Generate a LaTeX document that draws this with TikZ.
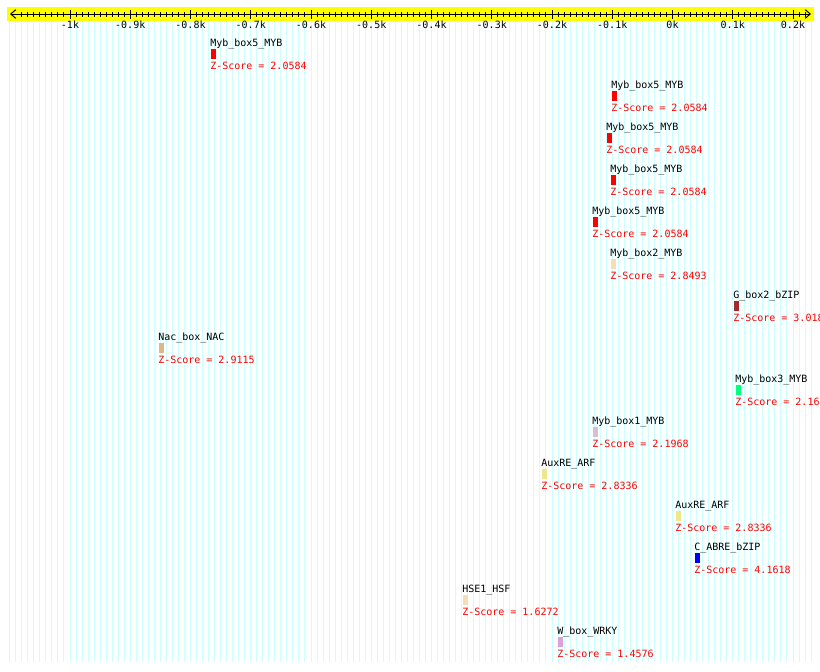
\documentclass[tikz,border=0pt]{standalone}
\usepackage{fontspec}
\setmonofont{DejaVu Sans Mono}
\usepackage{tikz}
\usetikzlibrary{arrows.meta,positioning}
\definecolor{gridcyan}{HTML}{CCFFFF}
\definecolor{bandyellow}{HTML}{FFFF00}
\definecolor{tfred}{HTML}{FF0000}
\definecolor{tfwheat}{HTML}{F5DEB3}
\definecolor{tfbrown}{HTML}{A52A2A}
\definecolor{tfburly}{HTML}{DEB887}
\definecolor{tfgreen}{HTML}{00FF7F}
\definecolor{tfthistle}{HTML}{D8BFD8}
\definecolor{tfkhaki}{HTML}{F0E68C}
\definecolor{tfblue}{HTML}{0000FF}
\definecolor{tfplum}{HTML}{DDA0DD}
\tikzset{
  txt/.style     = {font=\ttfamily\fontsize{7.5}{9}\selectfont, inner sep=0pt},
  tfname/.style  = {txt, text=black, anchor=base west},
  zscore/.style  = {txt, text=tfred, anchor=base west},
  ticklab/.style = {txt, text=black, anchor=base},
  tfbox/.style   = {inner sep=0pt, minimum width=3.75pt, minimum height=7.5pt,
                    anchor=north west},
  gridln/.style  = {gridcyan, line width=0.75pt},
  tickln/.style  = {black, line width=0.75pt},
  axisln/.style  = {black, line width=0.75pt,
                    {Straight Barb[length=3.75pt,width=6.5pt]}-{Straight Barb[length=3.75pt,width=6.5pt]}},
}

\begin{document}
\begin{tikzpicture}[x=0.75pt,y=-0.75pt]
  \useasboundingbox (0,0) rectangle (820,671);
  \clip (0,0) rectangle (820,671);
  \fill[white] (0,0) rectangle (820,671);
  % background grid, one line every 10 bp
  \foreach \j in {-110,...,23}
    \draw[gridln] (672.5+6.025*\j,20) -- (672.5+6.025*\j,662);
  % position axis
  \fill[bandyellow] (7,7) rectangle (814,20.5);
  \coordinate (axl) at (10,14);
  \coordinate (axr) at (811,14);
  \draw[axisln] (axl) -- (axr);
  \foreach \j in {-108,...,22}
    \draw[tickln] (672.5+6.025*\j,12) -- (672.5+6.025*\j,16.5);
  \foreach \i/\lab in {-10/-1k,-9/-0.9k,-8/-0.8k,-7/-0.7k,-6/-0.6k,-5/-0.5k,-4/-0.4k,
                       -3/-0.3k,-2/-0.2k,-1/-0.1k,0/0k,1/0.1k,2/0.2k} {
    \draw[tickln] (672.5+60.25*\i,9.5) -- (672.5+60.25*\i,18.5);
    \node[ticklab] (t\i) at (672.5+60.25*\i,28.5) {\lab};
  }
  % motifs: row / x / name / colour / score
  \foreach \r/\x/\nm/\col/\sc in {
      0/210/Myb\_box5\_MYB/tfred/2.0584,
      1/611/Myb\_box5\_MYB/tfred/2.0584,
      2/606/Myb\_box5\_MYB/tfred/2.0584,
      3/610/Myb\_box5\_MYB/tfred/2.0584,
      4/592/Myb\_box5\_MYB/tfred/2.0584,
      5/610/Myb\_box2\_MYB/tfwheat/2.8493,
      6/733/G\_box2\_bZIP/tfbrown/3.018,
      7/158/Nac\_box\_NAC/tfburly/2.9115,
      8/735/Myb\_box3\_MYB/tfgreen/2.16,
      9/592/Myb\_box1\_MYB/tfthistle/2.1968,
      10/541/AuxRE\_ARF/tfkhaki/2.8336,
      11/675/AuxRE\_ARF/tfkhaki/2.8336,
      12/694/C\_ABRE\_bZIP/tfblue/4.1618,
      13/462/HSE1\_HSF/tfwheat/1.6272,
      14/557/W\_box\_WRKY/tfplum/1.4576} {
    \pgfmathsetmacro\yc{43+42*\r}
    \node[tfname] (n\r) at (\x,\yc+3.5) {\nm};
    \node[tfbox,fill=\col] (b\r) at (\x+1,\yc+6) {};
    \node[zscore] (z\r) at (\x,\yc+26.5) {Z-Score = \sc};
  }
\end{tikzpicture}
\end{document}
